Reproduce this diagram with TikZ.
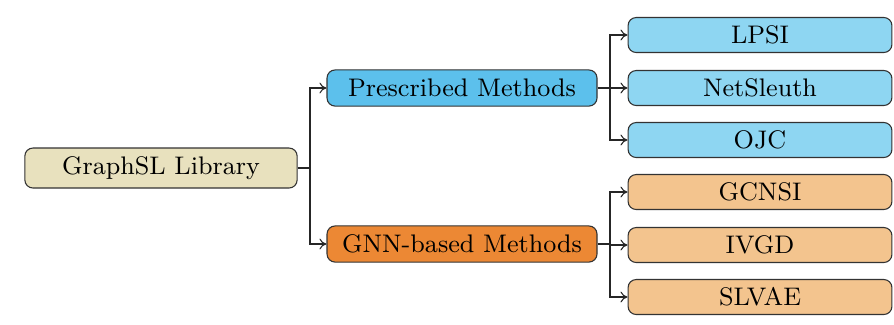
\documentclass[tikz,border=0pt]{standalone}
\usepackage{xcolor}
\usepackage{tikz}
\usetikzlibrary{calc}
\usetikzlibrary{arrows.meta}

\definecolor{rootfill}{RGB}{232,225,190}
\definecolor{presfill}{RGB}{92,192,236}
\definecolor{presleaf}{RGB}{142,214,242}
\definecolor{gnnfill}{RGB}{236,136,52}
\definecolor{gnnleaf}{RGB}{243,196,142}

\tikzset{
    box/.style={draw=black!80, rounded corners=3pt, thin, align=center, inner sep=0pt,
        font=\fontsize{9.4}{11}\selectfont},
    rootbox/.style={box, fill=rootfill, minimum width=3.54cm, minimum height=0.52cm},
    midbox/.style={box, minimum width=3.51cm, minimum height=0.47cm},
    leafbox/.style={box, minimum width=3.43cm, minimum height=0.455cm},
    link/.style={-{To[length=2.6pt,width=4pt]}, thin, black!85}
}

\begin{document}
\begin{tikzpicture}
        %RUANG
        \useasboundingbox (0,0) rectangle (11.622,4.212);
        %AKAR
        \node[rootbox] (root) at (2.093,2.028) {GraphSL Library};
        %CABANG
        \node[midbox, fill=presfill] (pres) at (6.006,3.068) {Prescribed Methods};
        \node[midbox, fill=gnnfill] (gnn) at (6.006,1.040) {GNN-based Methods};
        %DAUN PRESCRIBED
        \node[leafbox, fill=presleaf] (lpsi) at (9.88,3.757) {LPSI};
        \node[leafbox, fill=presleaf] (netsleuth) at (9.88,3.068) {NetSleuth};
        \node[leafbox, fill=presleaf] (ojc) at (9.88,2.392) {OJC};
        %DAUN GNN
        \node[leafbox, fill=gnnleaf] (gcnsi) at (9.88,1.716) {GCNSI};
        \node[leafbox, fill=gnnleaf] (ivgd) at (9.88,1.027) {IVGD};
        \node[leafbox, fill=gnnleaf] (slvae) at (9.88,0.351) {SLVAE};
        %TITIK BELOK
        \coordinate (b0) at (4.03,2.028);
        \coordinate (b1) at (7.93,3.068);
        \coordinate (b2) at (7.93,1.040);
        %GARIS
        \draw[thin, black!85] (root.east) -- (b0);
        \draw[link] (b0) |- (pres.west);
        \draw[link] (b0) |- (gnn.west);
        \draw[thin, black!85] (pres.east) -- (b1);
        \draw[link] (b1) |- (lpsi.west);
        \draw[link] (b1) |- (netsleuth.west);
        \draw[link] (b1) |- (ojc.west);
        \draw[thin, black!85] (gnn.east) -- (b2);
        \draw[link] (b2) |- (gcnsi.west);
        \draw[link] (b2) |- (ivgd.west);
        \draw[link] (b2) |- (slvae.west);
    \end{tikzpicture}
\end{document}
